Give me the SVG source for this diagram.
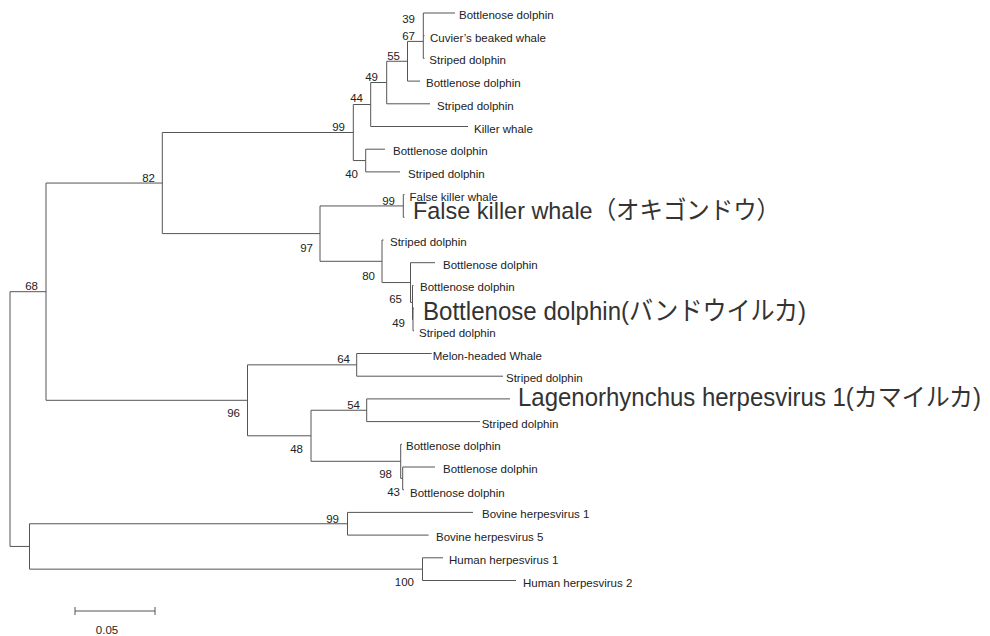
<svg xmlns="http://www.w3.org/2000/svg" width="990" height="636" viewBox="0 0 990 636">
<style>
.br{stroke:#555;stroke-width:1;fill:none}
.lf{font-family:"Liberation Sans",Arial,sans-serif;font-size:11.5px;fill:#222}
.bs{font-family:"Liberation Sans",Arial,sans-serif;font-size:11.5px;fill:#222;text-anchor:end}
.big{font-family:"Liberation Sans","Noto Sans CJK JP",sans-serif;fill:#333}
</style>
<rect width="990" height="636" fill="#fff"/>
<g id="connectors" class="br">
<path d="M10,291.7V546.45M10,291.7H46M46,183.05V400.3M10,546.45H29.5M29.5,523.75V569.15"/>
<path d="M46,183.05H162.3M162.3,132.5V233.6M46,400.3H247.5M247.5,364.85V435.8"/>
<path d="M162.3,132.5H353.3M353.3,104.5V160.55M162.3,233.6H320M320,205.95V261.3"/>
<path d="M353.3,104.5H370.7M370.7,82.5V126.5M353.3,160.55H365.7M365.7,149.2V171.9"/>
<path d="M370.7,82.5H386.7M386.7,61.25V103.8M386.7,61.25H407.5M407.5,41.4V81.1M407.5,41.4H423.3M423.3,13V58.4"/>
<path d="M423.3,13H455M423.3,35.7H424.5M423.3,58.4H424.5M407.5,81.1H420M386.7,103.8H430M370.7,126.5H468M365.7,149.2H385M365.7,171.9H400"/>
<path d="M320,205.95H403.3M403.3,194.6V217.3M403.3,194.6H404.5M403.3,217.3H404.5"/>
<path d="M320,261.3H382M382,240V282.55M382,240H383.5M382,282.55H410.5M410.5,262.7V302.4M410.5,262.7H435M410.5,302.4H412.5M412.5,285.4V319.45M412.5,285.4H413.5M412.5,319.45H413M413,308.1V330.8M413,308.1H414M413,330.8H414"/>
<path d="M247.5,364.85H356.7M356.7,353.5V376.2M356.7,353.5H431.7M356.7,376.2H503"/>
<path d="M247.5,435.8H311M311,410.25V461.3M311,410.25H366.7M366.7,398.9V421.6M366.7,398.9H510M366.7,421.6H480"/>
<path d="M311,461.3H400.7M400.7,444.3V478.35M400.7,444.3H402M400.7,478.35H402.7M402.7,467V489.7M402.7,467H435M402.7,489.7H404"/>
<path d="M29.5,523.75H347.5M347.5,512.4V535.1M347.5,512.4H473M347.5,535.1H428.6"/>
<path d="M29.5,569.15H422.5M422.5,557.8V580.5M422.5,557.8H443M422.5,580.5H516"/>
<path d="M75,611H155M75,607V615M155,607V615"/>
</g>
<g id="leaf-1"><text class="lf" x="459" y="19">Bottlenose dolphin</text></g>
<g id="leaf-2"><text class="lf" x="430" y="41.7">Cuvier’s beaked whale</text></g>
<g id="leaf-3"><text class="lf" x="429.3" y="64.4">Striped dolphin</text></g>
<g id="leaf-4"><text class="lf" x="426" y="87.1">Bottlenose dolphin</text></g>
<g id="leaf-5"><text class="lf" x="437" y="109.8">Striped dolphin</text></g>
<g id="leaf-6"><text class="lf" x="474" y="132.5">Killer whale</text></g>
<g id="leaf-7"><text class="lf" x="393" y="155.2">Bottlenose dolphin</text></g>
<g id="leaf-8"><text class="lf" x="408" y="177.9">Striped dolphin</text></g>
<g id="leaf-9"><text class="lf" x="409.5" y="200.6">False killer whale</text></g>
<g id="leaf-10"><text class="big" x="413" y="218.5" font-size="24.5" textLength="367" lengthAdjust="spacingAndGlyphs">False killer whale（オキゴンドウ）</text></g>
<g id="leaf-11"><text class="lf" x="390" y="246">Striped dolphin</text></g>
<g id="leaf-12"><text class="lf" x="443" y="268.7">Bottlenose dolphin</text></g>
<g id="leaf-13"><text class="lf" x="420" y="291.4">Bottlenose dolphin</text></g>
<g id="leaf-14"><text class="big" x="423" y="319.5" font-size="26" textLength="383" lengthAdjust="spacingAndGlyphs">Bottlenose dolphin(バンドウイルカ)</text></g>
<g id="leaf-15"><text class="lf" x="419" y="336.8">Striped dolphin</text></g>
<g id="leaf-16"><text class="lf" x="432.7" y="359.5">Melon-headed Whale</text></g>
<g id="leaf-17"><text class="lf" x="506" y="382.2">Striped dolphin</text></g>
<g id="leaf-18"><text class="big" x="518" y="406" font-size="25" textLength="463" lengthAdjust="spacingAndGlyphs">Lagenorhynchus herpesvirus 1(カマイルカ)</text></g>
<g id="leaf-19"><text class="lf" x="481.7" y="427.6">Striped dolphin</text></g>
<g id="leaf-20"><text class="lf" x="406" y="450.3">Bottlenose dolphin</text></g>
<g id="leaf-21"><text class="lf" x="443" y="473">Bottlenose dolphin</text></g>
<g id="leaf-22"><text class="lf" x="410" y="496.5" font-size="13">Bottlenose dolphin</text></g>
<g id="leaf-23"><text class="lf" x="482" y="518.4">Bovine herpesvirus 1</text></g>
<g id="leaf-24"><text class="lf" x="436" y="541.1">Bovine herpesvirus 5</text></g>
<g id="leaf-25"><text class="lf" x="449" y="563.8">Human herpesvirus 1</text></g>
<g id="leaf-26"><text class="lf" x="523" y="586.5">Human herpesvirus 2</text></g>
<g id="node-39"><text class="bs" x="415" y="22.5">39</text></g>
<g id="node-67"><text class="bs" x="415" y="40">67</text></g>
<g id="node-55"><text class="bs" x="400" y="60">55</text></g>
<g id="node-49a"><text class="bs" x="378" y="81">49</text></g>
<g id="node-44"><text class="bs" x="363" y="102">44</text></g>
<g id="node-99a"><text class="bs" x="345" y="131">99</text></g>
<g id="node-40"><text class="bs" x="358" y="178">40</text></g>
<g id="node-82"><text class="bs" x="155" y="182">82</text></g>
<g id="node-97"><text class="bs" x="313" y="252">97</text></g>
<g id="node-68"><text class="bs" x="38" y="290">68</text></g>
<g id="node-99b"><text class="bs" x="395" y="204.5">99</text></g>
<g id="node-80"><text class="bs" x="375" y="280">80</text></g>
<g id="node-65"><text class="bs" x="402" y="303">65</text></g>
<g id="node-49b"><text class="bs" x="405" y="327">49</text></g>
<g id="node-64"><text class="bs" x="350" y="363">64</text></g>
<g id="node-96"><text class="bs" x="240" y="417">96</text></g>
<g id="node-54"><text class="bs" x="360" y="409">54</text></g>
<g id="node-48"><text class="bs" x="303" y="453">48</text></g>
<g id="node-98"><text class="bs" x="392" y="478">98</text></g>
<g id="node-43"><text class="bs" x="400" y="496">43</text></g>
<g id="node-99c"><text class="bs" x="339" y="523">99</text></g>
<g id="node-100"><text class="bs" x="414" y="586">100</text></g>
<g id="scale"><text class="lf" x="107" y="634" text-anchor="middle">0.05</text></g>
</svg>
